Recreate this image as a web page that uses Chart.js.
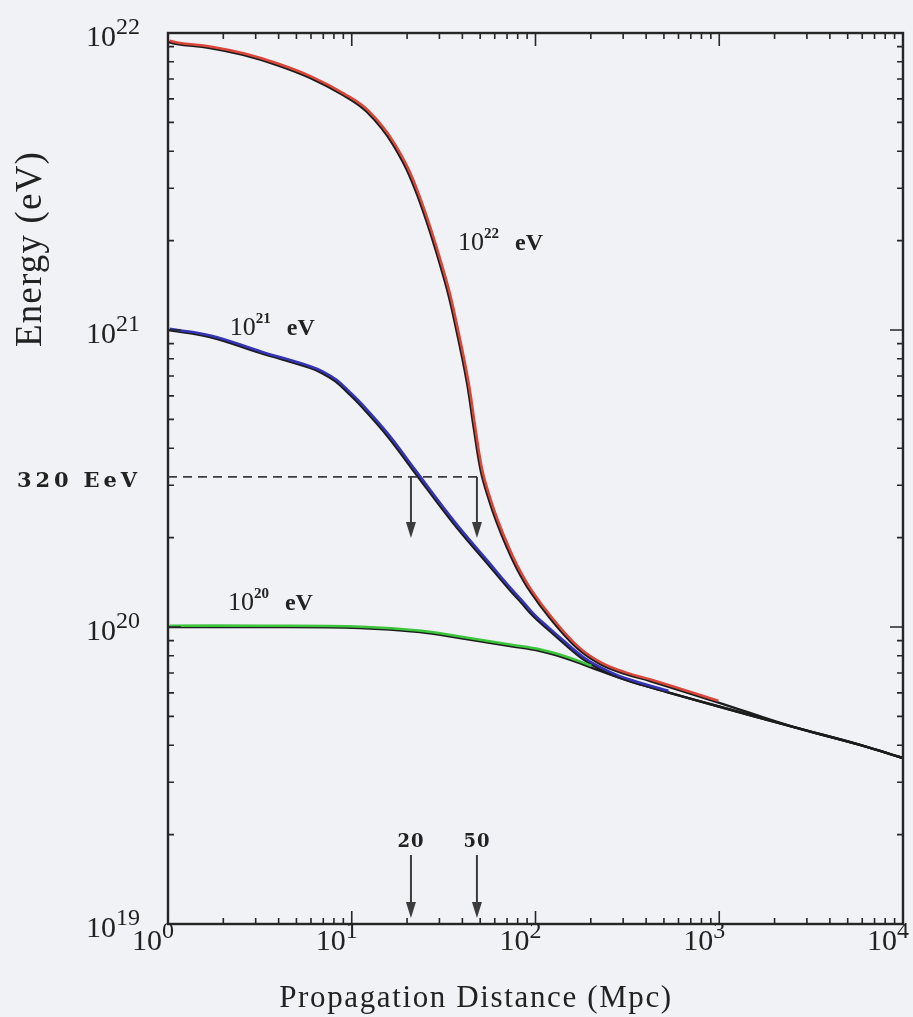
<!DOCTYPE html>
<html>
<head>
<meta charset="utf-8">
<script src="https://cdn.jsdelivr.net/npm/chart.js@4.4.0/dist/chart.umd.min.js"></script>
<style>
  html, body { margin: 0; padding: 0; background: #f1f2f6; }
  #wrap { width: 913px; height: 1017px; }
</style>
</head>
<body>
<div id="wrap"><canvas id="energyChart" width="913" height="1017"></canvas></div>
<script>
// Propagation distance (Mpc) and energy (eV)
const distance22 = [1, 1.12, 1.69, 2.56, 3.92, 5.93, 8.96, 12.1, 16.8, 22.7, 32.2, 37.4, 42.4, 46.3, 50.5, 55.8, 61.7, 70.0, 79.3, 93.3, 120, 168, 224, 307, 420, 972, 2520, 5830, 10000];
const energy22 = [9.33e21, 9.18e21, 8.90e21, 8.44e21, 7.80e21, 7.06e21, 6.18e21, 5.42e21, 4.20e21, 2.85e21, 1.45e21, 9.77e20, 6.63e20, 4.61e20, 3.33e20, 2.68e20, 2.24e20, 1.85e20, 1.57e20, 1.32e20, 1.07e20, 8.50e19, 7.51e19, 6.95e19, 6.58e19, 5.59e19, 4.61e19, 4.01e19, 3.62e19];

const distance21 = [1, 1.69, 3.17, 5.93, 6.89, 8.11, 9.54, 11.1, 15.6, 21.5, 35.6, 54.5, 72.6, 84.4, 96.9, 116, 136, 181, 224, 278, 380, 520, 972, 2520, 5830, 10000];
const energy21 = [1.0e21, 9.47e20, 8.37e20, 7.45e20, 7.16e20, 6.73e20, 6.14e20, 5.59e20, 4.40e20, 3.38e20, 2.24e20, 1.64e20, 1.33e20, 1.20e20, 1.09e20, 9.85e19, 9.04e19, 7.80e19, 7.22e19, 6.79e19, 6.38e19, 6.04e19, 5.42e19, 4.61e19, 4.01e19, 3.62e19];

const distance20 = [1, 3.17, 11.1, 23.5, 38.8, 72.6, 106, 145, 198, 278, 380, 520, 972, 2520, 5830, 10000];
const energy20 = [1.0e20, 1.0e20, 9.92e19, 9.62e19, 9.18e19, 8.63e19, 8.30e19, 7.86e19, 7.33e19, 6.79e19, 6.38e19, 6.04e19, 5.42e19, 4.61e19, 4.01e19, 3.62e19];

// Axes
const xTickValues = [1, 10, 100, 1000, 10000];
const xTickExponents = ["0", "1", "2", "3", "4"];
const yTickValues = [1e19, 1e20, 1e21, 1e22];
const yTickExponents = ["19", "20", "21", "22"];

// 320 EeV cut and the distances where the tracks reach it
const cutEnergy = 3.2e20;
const cutLabel = "320 EeV";
const cutEndDistance = 50;
const crossDistances = [21, 48];
const markerLabels = ["20", "50"];

// Curve labels: exponent, anchor distance, anchor energy
const curveExponents = ["22", "21", "20"];
const curveLabelDistance = [37.9, 2.17, 2.12];
const curveLabelEnergy = [1.86e21, 9.62e20, 1.14e20];

const xTitle = "Propagation Distance (Mpc)";
const yTitle = "Energy (eV)";

const colorRed = "#d9473b";
const colorBlue = "#3434b4";
const colorGreen = "#3cc43c";
const inkColor = "#262626";

function toPoints(xs, ys) {
  return xs.map((x, i) => ({ x: x, y: ys[i] }));
}

function blackLine(points) {
  return { data: points, borderColor: "#1c1c1c", borderWidth: 2.4, order: 2 };
}

function colorLine(points, color, upTo) {
  return {
    data: points.filter(p => p.x <= upTo),
    borderColor: color, borderWidth: 2.6, order: 1, shift: [1.4, -1.3]
  };
}

const points22 = toPoints(distance22, energy22);
const points21 = toPoints(distance21, energy21);
const points20 = toPoints(distance20, energy20);

function decadeTicks(min, max) {
  const out = [];
  const e0 = Math.round(Math.log10(min));
  const e1 = Math.round(Math.log10(max));
  for (let e = e0; e < e1; e++) {
    for (let k = 1; k < 10; k++) out.push({ v: k * Math.pow(10, e), major: k === 1 });
  }
  out.push({ v: Math.pow(10, e1), major: true });
  return out;
}

function spacedText(ctx, text, x, y, width) {
  ctx.letterSpacing = "0px";
  const w = ctx.measureText(text).width;
  const sp = Math.max(0, (width - w) / (text.length - 1));
  ctx.letterSpacing = sp + "px";
  ctx.fillText(text, x, y);
  ctx.letterSpacing = "0px";
}

// draws "10" followed by a raised exponent, starting at x
function drawPower(ctx, x, baseline, exp, baseFont, expFont, raise) {
  ctx.textAlign = "left";
  ctx.textBaseline = "alphabetic";
  ctx.font = baseFont;
  ctx.fillText("10", x, baseline);
  const w = ctx.measureText("10").width;
  ctx.font = expFont;
  ctx.fillText(exp, x + w, baseline - raise);
  return x + w + ctx.measureText(exp).width;
}

function powerWidth(ctx, exp, baseFont, expFont) {
  ctx.font = baseFont;
  const w = ctx.measureText("10").width;
  ctx.font = expFont;
  return w + ctx.measureText(exp).width;
}

function drawArrow(ctx, x, y0, y1) {
  ctx.beginPath();
  ctx.moveTo(x, y0);
  ctx.lineTo(x, y1 - 12);
  ctx.stroke();
  ctx.beginPath();
  ctx.moveTo(x - 5, y1 - 16);
  ctx.lineTo(x + 5, y1 - 16);
  ctx.lineTo(x, y1);
  ctx.closePath();
  ctx.fill();
}

const figurePlugin = {
  id: "figure",
  beforeDraw(chart) {
    const ctx = chart.ctx;
    ctx.save();
    ctx.fillStyle = "#f1f2f6";
    ctx.fillRect(0, 0, chart.width, chart.height);
    ctx.restore();
  },
  beforeDatasetDraw(chart, args) {
    const ds = chart.data.datasets[args.index];
    if (ds.shift) {
      chart.ctx.save();
      chart.ctx.translate(ds.shift[0], ds.shift[1]);
    }
  },
  afterDatasetDraw(chart, args) {
    const ds = chart.data.datasets[args.index];
    if (ds.shift) chart.ctx.restore();
  },
  afterDraw(chart) {
    const ctx = chart.ctx;
    const xs = chart.scales.x;
    const ys = chart.scales.y;
    const a = chart.chartArea;
    ctx.save();

    // frame
    ctx.strokeStyle = inkColor;
    ctx.lineWidth = 2.4;
    ctx.strokeRect(a.left, a.top, a.right - a.left, a.bottom - a.top);

    // inward ticks on all four sides
    ctx.lineWidth = 1.6;
    ctx.beginPath();
    decadeTicks(1, 10000).forEach(t => {
      const px = xs.getPixelForValue(t.v);
      const len = t.major ? 13 : 6;
      ctx.moveTo(px, a.bottom); ctx.lineTo(px, a.bottom - len);
      ctx.moveTo(px, a.top); ctx.lineTo(px, a.top + len);
    });
    decadeTicks(1e19, 1e22).forEach(t => {
      const py = ys.getPixelForValue(t.v);
      const len = t.major ? 13 : 6;
      ctx.moveTo(a.left, py); ctx.lineTo(a.left + len, py);
      ctx.moveTo(a.right, py); ctx.lineTo(a.right - len, py);
    });
    ctx.stroke();

    // tick labels
    ctx.fillStyle = "#222";
    const tickBase = '30px "Liberation Serif", serif';
    const tickExp = '24px "Liberation Serif", serif';
    yTickValues.forEach((v, i) => {
      const py = ys.getPixelForValue(v);
      const w = powerWidth(ctx, yTickExponents[i], tickBase, tickExp);
      drawPower(ctx, a.left - 28 - w, py + 13, yTickExponents[i], tickBase, tickExp, 12);
    });
    xTickValues.forEach((v, i) => {
      const px = xs.getPixelForValue(v);
      ctx.font = tickBase;
      const w = ctx.measureText("10").width;
      drawPower(ctx, px - 6 - w, a.bottom + 26, xTickExponents[i], tickBase, tickExp, 12);
    });

    // curve labels
    curveExponents.forEach((exp, i) => {
      const px = xs.getPixelForValue(curveLabelDistance[i]);
      const py = ys.getPixelForValue(curveLabelEnergy[i]);
      const end = drawPower(ctx, px, py, exp, '26px "Liberation Serif", serif', 'bold 15px "Liberation Serif", serif', 12);
      ctx.font = 'bold 24px "Liberation Serif", serif';
      ctx.fillText("eV", end + 16, py);
    });

    // 320 EeV dashed level and arrows
    const cutY = ys.getPixelForValue(cutEnergy);
    ctx.strokeStyle = "#3c3c3c";
    ctx.fillStyle = "#3c3c3c";
    ctx.lineWidth = 1.7;
    ctx.setLineDash([9, 6]);
    ctx.beginPath();
    ctx.moveTo(a.left, cutY);
    ctx.lineTo(xs.getPixelForValue(cutEndDistance), cutY);
    ctx.stroke();
    ctx.setLineDash([]);
    ctx.lineWidth = 2;
    crossDistances.forEach(d => {
      const px = xs.getPixelForValue(d);
      drawArrow(ctx, px, cutY, cutY + 61);
      drawArrow(ctx, px, a.bottom - 69, a.bottom - 6);
    });

    ctx.fillStyle = "#222";
    ctx.font = 'bold 18px "DejaVu Serif", serif';
    ctx.textAlign = "center";
    ctx.textBaseline = "alphabetic";
    crossDistances.forEach((d, i) => {
      const px = xs.getPixelForValue(d);
      spacedText(ctx, markerLabels[i], px, a.bottom - 77, 26);
    });

    ctx.font = 'bold 21px "DejaVu Serif", serif';
    ctx.textAlign = "left";
    ctx.textBaseline = "middle";
    spacedText(ctx, cutLabel, a.left - 151, cutY + 5, 120);

    // axis titles
    ctx.font = '31px "Liberation Serif", serif';
    ctx.textAlign = "center";
    ctx.textBaseline = "alphabetic";
    spacedText(ctx, xTitle, a.left + 308, a.bottom + 83, 392);

    ctx.save();
    ctx.translate(a.left - 127, a.top + 216);
    ctx.rotate(-Math.PI / 2);
    ctx.font = '37px "Liberation Serif", serif';
    spacedText(ctx, yTitle, 0, 0, 195);
    ctx.restore();

    ctx.restore();
  }
};

const chart = new Chart(document.getElementById("energyChart"), {
  type: "line",
  data: {
    datasets: [
      blackLine(points22),
      blackLine(points21),
      blackLine(points20),
      colorLine(points22, colorRed, 1000),
      colorLine(points21, colorBlue, 600),
      colorLine(points20, colorGreen, 200)
    ]
  },
  options: {
    responsive: false,
    animation: false,
    events: [],
    layout: { padding: { top: 33, right: 10, left: 0, bottom: 0 } },
    elements: {
      point: { radius: 0 },
      line: { tension: 0.4, fill: false }
    },
    plugins: { legend: { display: false }, tooltip: { enabled: false } },
    scales: {
      x: {
        type: "logarithmic", min: 1, max: 10000,
        grid: { display: false }, border: { display: false },
        ticks: { display: false },
        afterBuildTicks: (axis) => { axis.ticks = xTickValues.map(v => ({ value: v })); },
        afterFit: (axis) => { axis.height = 93; axis.paddingLeft = 0; axis.paddingRight = 0; }
      },
      y: {
        type: "logarithmic", min: 1e19, max: 1e22,
        grid: { display: false }, border: { display: false },
        ticks: { display: false },
        afterBuildTicks: (axis) => { axis.ticks = yTickValues.map(v => ({ value: v })); },
        afterFit: (axis) => { axis.width = 168; axis.paddingTop = 0; axis.paddingBottom = 0; }
      }
    }
  },
  plugins: [figurePlugin]
});
</script>
</body>
</html>
